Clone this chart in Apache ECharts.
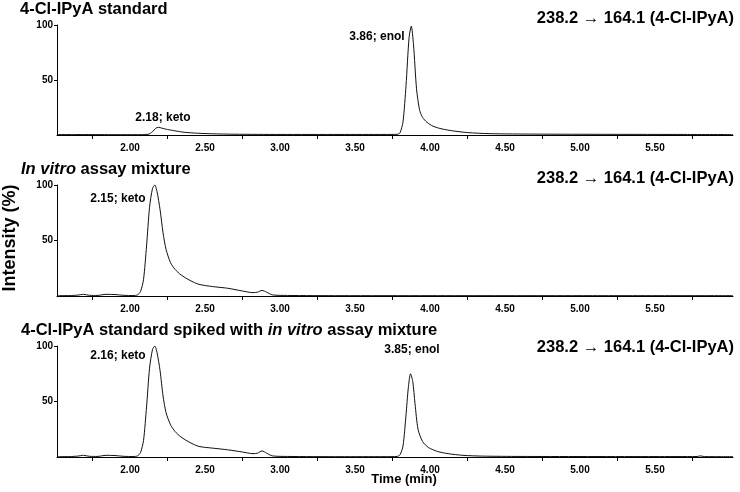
<!DOCTYPE html>
<html>
<head>
<meta charset="utf-8">
<script src="https://cdn.jsdelivr.net/npm/echarts@6/dist/echarts.min.js"></script>
<style>html,body{margin:0;padding:0;background:#fff}#c{width:740px;height:492px}</style>
</head>
<body>
<div id="c"></div>
<script>
// ---- data ----
var xLabelValues = [2.0, 2.5, 3.0, 3.5, 4.0, 4.5, 5.0, 5.5];
var xTickValues = [1.75, 2.25, 2.75, 3.25, 3.75, 4.25, 4.75, 5.25, 5.75];
var yLabelValues = [50, 100];

// Panel 1: 4-Cl-IPyA standard
var t1 = [1.52, 1.70, 1.90, 2.05, 2.12, 2.15, 2.17, 2.19, 2.21, 2.25, 2.30, 2.36, 2.45, 2.55, 2.70, 3.00, 3.40, 3.70, 3.78, 3.80, 3.82, 3.84, 3.86, 3.875, 3.89, 3.91, 3.93, 3.95, 3.98, 4.02, 4.08, 4.15, 4.25, 4.40, 4.70, 5.20, 5.70, 6.02];
var i1 = [0.4, 0.4, 0.3, 0.3, 0.6, 3, 6, 7, 6.3, 5, 3.8, 2.5, 1.6, 1.1, 0.7, 0.5, 0.5, 0.5, 0.6, 2, 12, 45, 88, 99, 82, 42, 23, 16, 11.5, 8, 5.5, 3.8, 2.2, 1.2, 0.8, 0.6, 0.5, 0.4];

// Panel 2: in vitro assay mixture
var t2 = [1.52, 1.60, 1.65, 1.69, 1.73, 1.78, 1.84, 1.90, 1.96, 2.02, 2.05, 2.07, 2.09, 2.11, 2.13, 2.15, 2.165, 2.18, 2.20, 2.22, 2.24, 2.27, 2.30, 2.34, 2.40, 2.46, 2.55, 2.65, 2.75, 2.82, 2.85, 2.88, 2.91, 2.95, 3.05, 3.40, 4.00, 5.00, 6.02];
var i2 = [0.3, 0.4, 0.8, 1.5, 0.6, 0.5, 1.5, 1.3, 0.6, 0.4, 1, 4, 15, 45, 80, 97, 100, 94, 78, 57, 42, 30, 24, 19, 14, 10.5, 8.5, 7, 4.5, 3, 3.5, 5, 3.5, 1, 0.5, 0.3, 0.3, 0.3, 0.3];

// Panel 3: standard spiked with in vitro assay mixture
var t3 = [1.52, 1.60, 1.65, 1.69, 1.73, 1.78, 1.84, 1.90, 1.96, 2.02, 2.05, 2.07, 2.09, 2.11, 2.13, 2.15, 2.165, 2.18, 2.20, 2.22, 2.24, 2.27, 2.30, 2.34, 2.40, 2.46, 2.55, 2.65, 2.75, 2.82, 2.85, 2.88, 2.91, 2.95, 3.05, 3.40, 3.70, 3.78, 3.80, 3.82, 3.84, 3.855, 3.87, 3.885, 3.90, 3.92, 3.95, 3.99, 4.05, 4.12, 4.22, 4.35, 4.60, 5.50, 5.78, 5.80, 5.83, 6.02];
var i3 = [0.3, 0.4, 0.8, 1.5, 0.6, 0.5, 1.5, 1.3, 0.6, 0.4, 1, 4, 15, 45, 80, 97, 100, 94, 78, 55, 40, 29, 23, 18, 13, 9.5, 8, 6.5, 4.5, 3, 3.5, 5.5, 3.5, 1, 0.5, 0.3, 0.3, 0.5, 2, 10, 38, 62, 75, 68, 48, 25, 14, 8.5, 5, 3, 1.5, 0.8, 0.5, 0.4, 0.4, 1, 0.4, 0.3];

function pairs(t, v) { return t.map(function (x, k) { return [x, v[k]]; }); }

var grids = [
  {left: 57, right: 7, top: 25, height: 110},
  {left: 57, right: 7, top: 185, height: 111},
  {left: 57, right: 7, top: 346, height: 111}
];

var FONT = '"Liberation Sans", Arial, Helvetica, sans-serif';

function xAxis(i) {
  return {
    type: 'value', gridIndex: i, min: 1.513, max: 6.02,
    axisLine: {show: true, onZero: false, lineStyle: {color: '#000', width: 1}},
    axisTick: {show: true, length: 4, customValues: xTickValues, lineStyle: {color: '#000'}},
    axisLabel: {show: true, customValues: xLabelValues, margin: 8, fontFamily: FONT, fontWeight: 'bold', fontSize: 10, color: '#000',
      formatter: function (v) { return v.toFixed(2); }},
    splitLine: {show: false}
  };
}
function yAxis(i) {
  return {
    type: 'value', gridIndex: i, min: 0, max: 100,
    axisLine: {show: true, lineStyle: {color: '#000', width: 1}},
    axisTick: {show: true, length: 3, customValues: yLabelValues, lineStyle: {color: '#000'}},
    axisLabel: {show: true, customValues: yLabelValues, margin: 4, fontFamily: FONT, fontWeight: 'bold', fontSize: 10, color: '#000'},
    splitLine: {show: false}
  };
}
function series(i, t, v) {
  return {
    type: 'line', xAxisIndex: i, yAxisIndex: i, data: pairs(t, v),
    showSymbol: false, smooth: 0.25, lineStyle: {color: '#111', width: 1}, silent: true, animation: false
  };
}

function txt(x, y, text, size, align) {
  return {type: 'text', silent: true, style: {text: text, x: x, y: y, font: 'bold ' + size + 'px ' + FONT, fill: '#000',
    textAlign: align || 'left', textVerticalAlign: 'middle'}};
}

var italicRich = {
  i: {fontFamily: FONT, fontWeight: 'bold', fontStyle: 'italic', fontSize: 16.5, fill: '#000'},
  b: {fontFamily: FONT, fontWeight: 'bold', fontSize: 16.5, fill: '#000'}
};

var graphics = [
  txt(20, 9, '4-Cl-IPyA standard', 16.5),
  {type: 'text', silent: true, style: {x: 21, y: 169, text: '{i|In vitro}{b| assay mixture}', rich: italicRich, textVerticalAlign: 'middle'}},
  {type: 'text', silent: true, style: {x: 21, y: 330, text: '{b|4-Cl-IPyA standard spiked with }{i|in vitro}{b| assay mixture}', rich: italicRich, textVerticalAlign: 'middle'}},
  txt(734, 18, '238.2 \u2192 164.1 (4-Cl-IPyA)', 16.5, 'right'),
  txt(734, 178, '238.2 \u2192 164.1 (4-Cl-IPyA)', 16.5, 'right'),
  txt(734, 347, '238.2 \u2192 164.1 (4-Cl-IPyA)', 16.5, 'right'),
  txt(163, 118, '2.18; keto', 12, 'center'),
  txt(377, 37, '3.86; enol', 12, 'center'),
  txt(118, 199, '2.15; keto', 12, 'center'),
  txt(118, 356, '2.16; keto', 12, 'center'),
  txt(412, 350, '3.85; enol', 12, 'center'),
  txt(404, 479, 'Time (min)', 13, 'center'),
  {type: 'text', silent: true, x: 10, y: 238, rotation: Math.PI / 2,
    style: {text: 'Intensity (%)', font: 'bold 18px ' + FONT, fill: '#000', textAlign: 'center', textVerticalAlign: 'middle'}}
];

var chart = echarts.init(document.getElementById('c'), null, {renderer: 'canvas'});
chart.setOption({
  backgroundColor: '#fff',
  animation: false,
  grid: grids,
  xAxis: [xAxis(0), xAxis(1), xAxis(2)],
  yAxis: [yAxis(0), yAxis(1), yAxis(2)],
  series: [series(0, t1, i1), series(1, t2, i2), series(2, t3, i3)],
  graphic: graphics
});
</script>
</body>
</html>
